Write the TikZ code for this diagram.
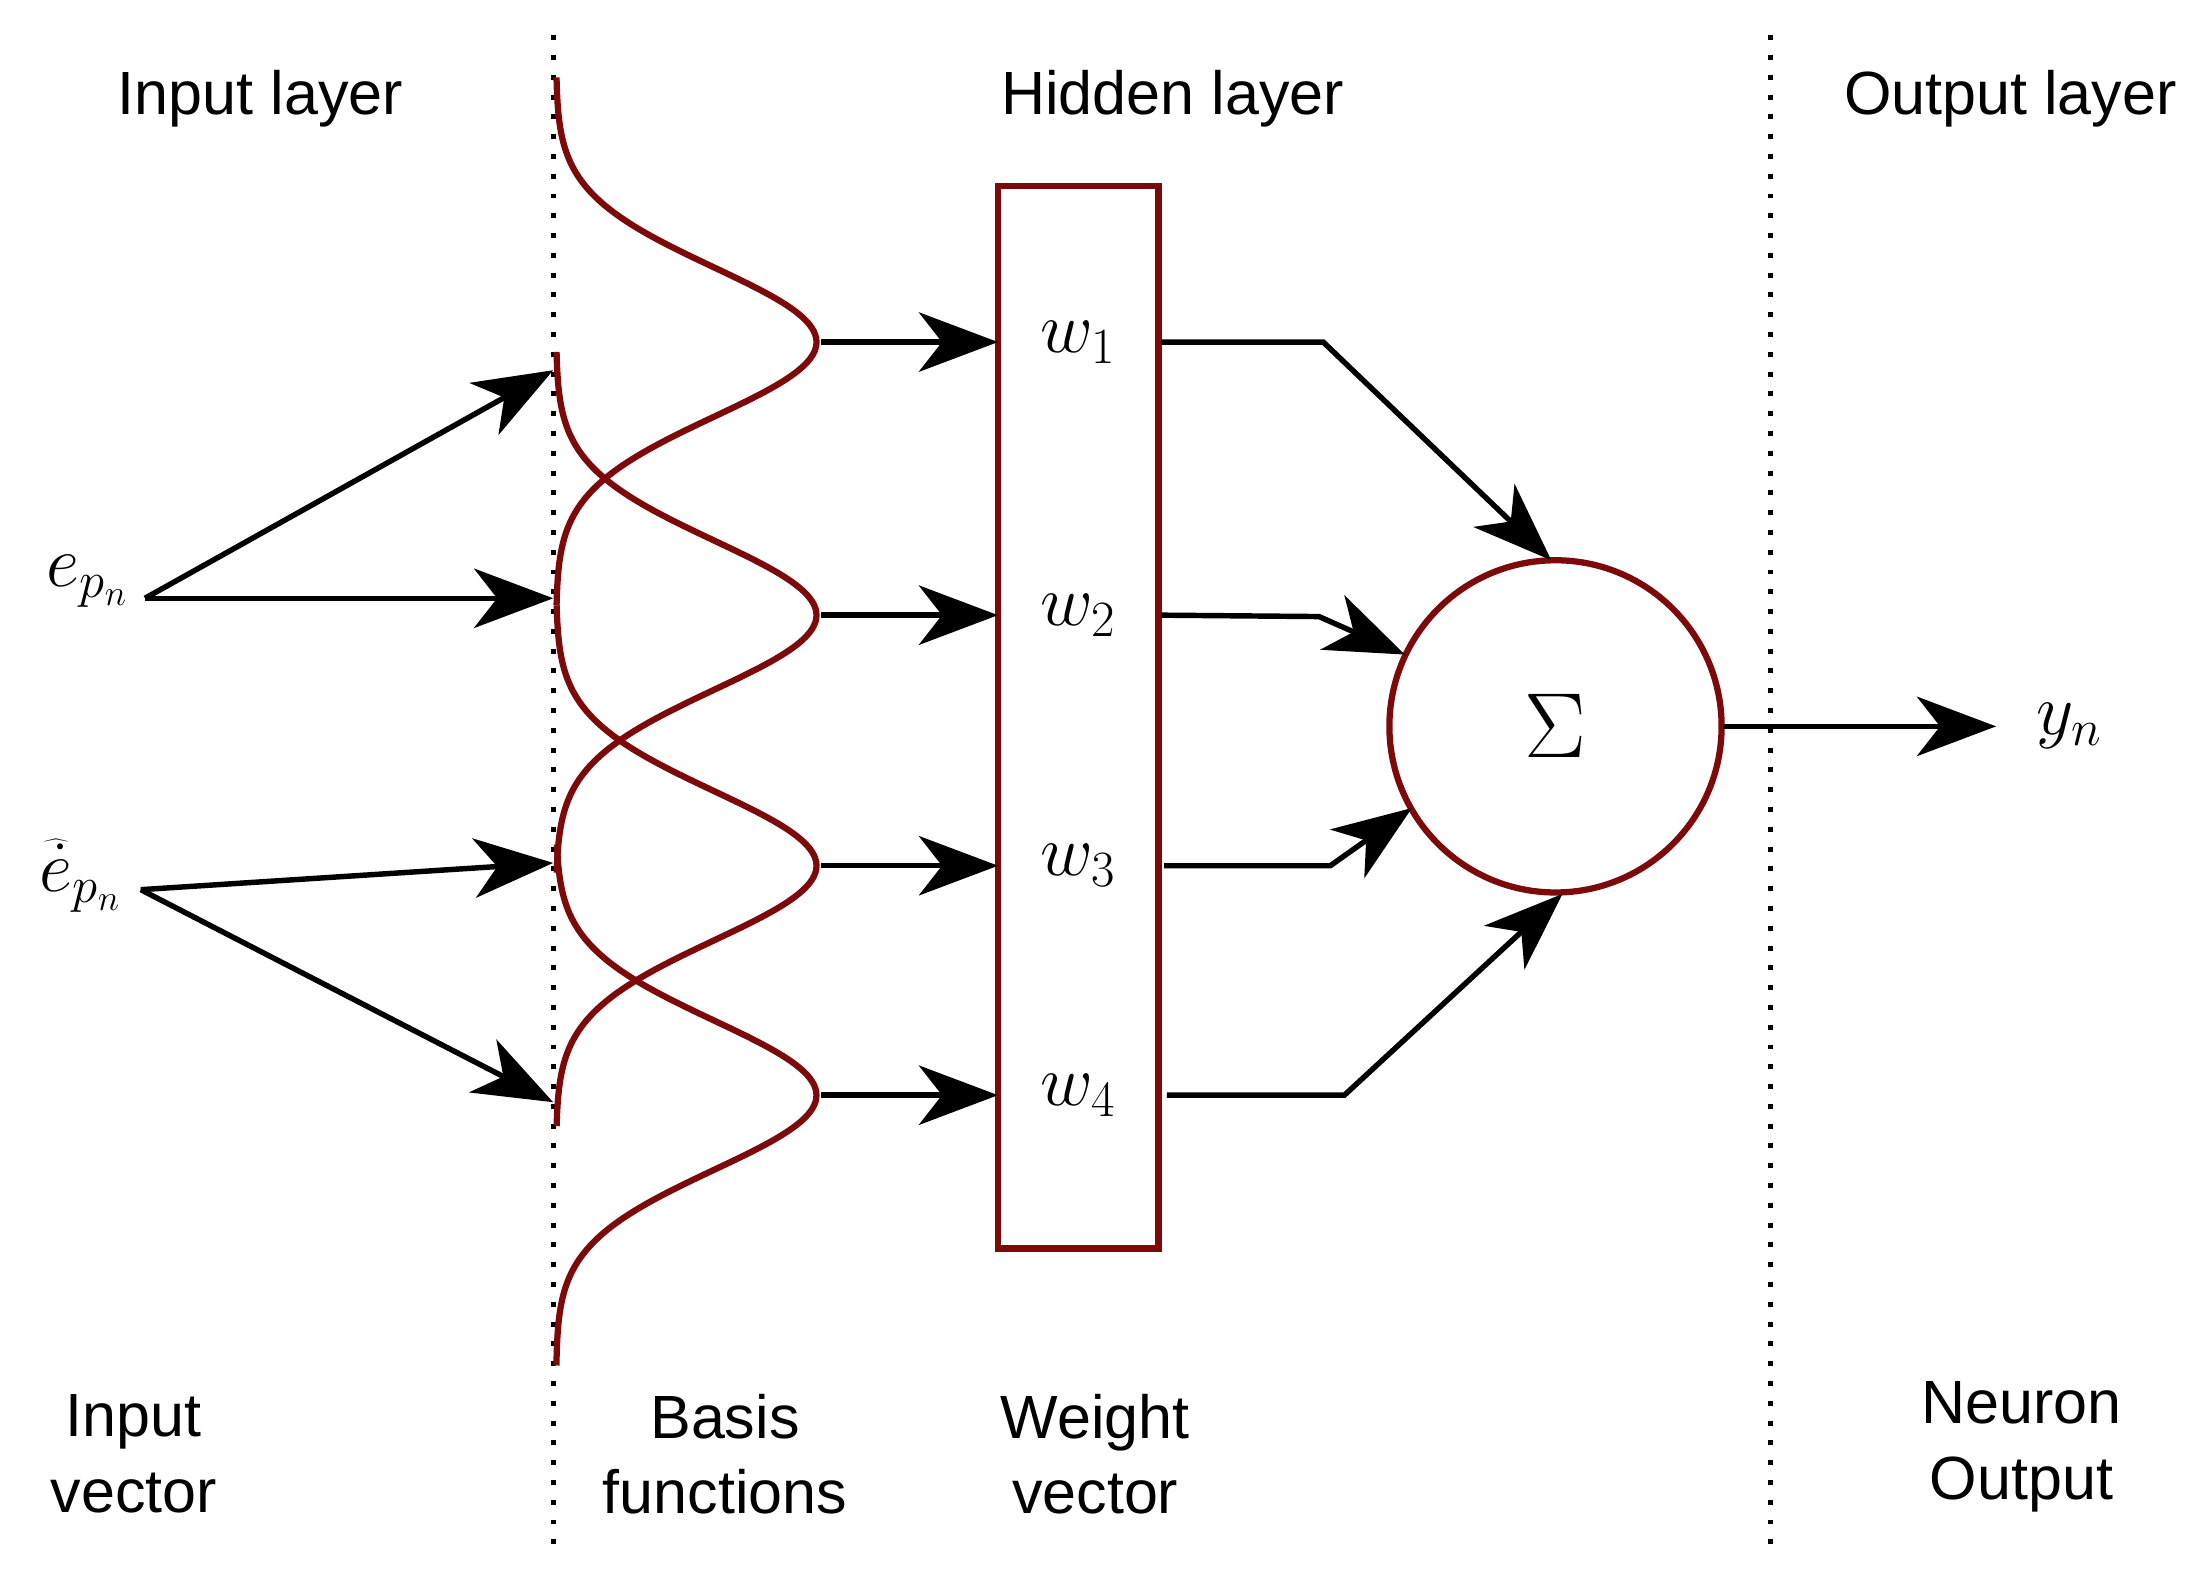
\RequirePackage{fix-cm}
\documentclass[tikz,border=0pt]{standalone}
\usepackage{fontspec}
\setmainfont{Liberation Sans}
\usetikzlibrary{arrows.meta}
\definecolor{dred}{RGB}{125,10,10}
\begin{document}
\begin{tikzpicture}[x=0.03cm,y=-0.03cm,
  lab/.style={font=\fontsize{37}{46}\selectfont,align=center},
  mth/.style={font=\fontsize{44}{52}\selectfont},
  arr/.style={line width=3.3pt,-{Stealth[length=48pt,width=36pt,inset=14pt]}},
  red/.style={draw=dred,line width=3.8pt},
  dot/.style={line width=3pt,dash pattern=on 3pt off 9pt}]
\useasboundingbox (0,0) rectangle (1560,1125);
\draw[dot] (393,25) -- (393,1105);
\draw[dot] (1258,25) -- (1258,1105);
\node[lab] (t1) at (185,70) {Input layer};
\node[lab] (t2) at (833,70) {Hidden layer};
\node[lab] (t3) at (1428,70) {Output layer};
\node[lab] (b1) at (95,1033) {Input\\vector};
\node[lab] (b2) at (515,1033) {Basis\\functions};
\node[lab] (b3) at (778,1033) {Weight\\vector};
\node[lab] (b4) at (1436,1028) {Neuron\\Output};
% gaussians
\foreach \c/\a/\b in {243/55/430,437/250/620,615/430/800,778/600/970}{
  \draw[red,smooth,samples=80,domain=\a:\b,variable=\t] plot ({395+185*exp(-((\t-\c)/75)^2)},\t);
}
\draw[red] (709,132) rectangle (823,887);
\node[mth] (w1) at (766,243) {$w_1$};
\node[mth] (w2) at (766,437) {$w_2$};
\node[mth] (w3) at (766,615) {$w_3$};
\node[mth] (w4) at (766,778) {$w_4$};
\foreach \y/\n in {243/1,437/2,615/3,778/4}{
  \coordinate (g\n) at (583,\y); \coordinate (r\n) at (709,\y);
  \draw[arr] (g\n) -- (r\n);
}
\node[red,circle,minimum size=236*0.03cm,inner sep=0] (S) at (1105,516) {};
\node[font=\fontsize{56}{64}\selectfont] (sig) at (1105,516) {$\Sigma$};
\coordinate (o1) at (825,243); \coordinate (k1) at (940,243); \coordinate (s1) at (1102,398);
\coordinate (o2) at (825,437); \coordinate (k2) at (937,438); \coordinate (s2) at (998,465);
\coordinate (o3) at (827,615); \coordinate (k3) at (945,615); \coordinate (s3) at (1003,574);
\coordinate (o4) at (829,778); \coordinate (k4) at (955,778); \coordinate (s4) at (1110,635);
\foreach \n in {1,2,3,4}{ \draw[arr] (o\n) -- (k\n) -- (s\n); }
\node[mth] (y) at (1470,516) {$y_n$};
\coordinate (so) at (1224,516); \coordinate (ye) at (1418,516);
\draw[arr] (so) -- (ye);
\node[mth] (e1) at (62,413) {$e_{p_n}$};
\node[mth] (e2) at (57,622) {$\widehat{\dot{e}}_{p_n}$};
\coordinate (e1a) at (103,425); \coordinate (e2a) at (100,632);
\coordinate (i1) at (393,263); \coordinate (i2) at (393,425);
\coordinate (i3) at (393,613); \coordinate (i4) at (393,783);
\draw[arr] (e1a) -- (i1); \draw[arr] (e1a) -- (i2);
\draw[arr] (e2a) -- (i3); \draw[arr] (e2a) -- (i4);
\end{tikzpicture}
\end{document}
